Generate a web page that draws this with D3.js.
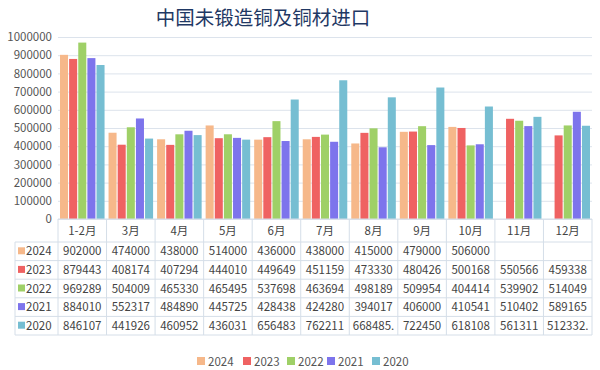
<!DOCTYPE html>
<html>
<head>
<meta charset="utf-8">
<script src="https://cdn.jsdelivr.net/npm/d3@7"></script>
<style>
body { margin: 0; background: #fff; }
text { font-family: "Noto Sans CJK SC", "Noto Sans", sans-serif; }
</style>
</head>
<body>
<div id="content"></div>
<script>
// chart data
var months = ["1-2月", "3月", "4月", "5月", "6月", "7月", "8月", "9月", "10月", "11月", "12月"];
var years = ["2024", "2023", "2022", "2021", "2020"];
var colors = ["#F6B88A", "#EF6262", "#9FD067", "#7D74EC", "#76BED2"];
var yTicks = [0, 100000, 200000, 300000, 400000, 500000, 600000, 700000, 800000, 900000, 1000000];

var v2024 = [902000, 474000, 438000, 514000, 436000, 438000, 415000, 479000, 506000, null, null];
var v2023 = [879443, 408174, 407294, 444010, 449649, 451159, 473330, 480426, 500168, 550566, 459338];
var v2022 = [969289, 504009, 465330, 465495, 537698, 463694, 498189, 509954, 404414, 539902, 514049];
var v2021 = [884010, 552317, 484890, 445725, 428438, 424280, 394017, 406000, 410541, 510402, 589165];
var v2020 = [846107, 441926, 460952, 436031, 656483, 762211, 668485.5, 722450, 618108, 561311, 512332.5];
var series = [v2024, v2023, v2022, v2021, v2020];

var width = 600, height = 370;
var plotL = 58, plotR = 592, plotT = 37, plotB = 219;

var svg = d3.select("#content").append("svg")
    .attr("width", width)
    .attr("height", height);

var x = d3.scaleBand().domain(months).range([plotL, plotR]);
var xs = d3.scaleBand().domain(years).range([2, x.bandwidth() - 2]).paddingInner(0.12);
var y = d3.scaleLinear().domain([0, 1000000]).range([plotB, plotT]);

// title
svg.append("text")
    .attr("x", 263).attr("y", 25)
    .attr("text-anchor", "middle")
    .style("font-size", "19.5px")
    .style("fill", "#1F3864")
    .text("中国未锻造铜及铜材进口");

// grid + y labels
var yAxis = d3.axisLeft(y).tickValues(yTicks).tickSize(-(plotR - plotL)).tickFormat(d3.format("d"));
var ga = svg.append("g").attr("transform", "translate(" + plotL + ",0)").call(yAxis);
ga.select(".domain").remove();
ga.selectAll(".tick line").attr("stroke", "#DCE3EC");
ga.selectAll(".tick text")
    .attr("x", -6)
    .style("font-size", "11.5px")
    .style("fill", "#555")
    .style("font-family", "'Noto Sans CJK SC', sans-serif");

// bars
series.forEach(function(vals, si) {
    svg.append("g").selectAll("rect")
        .data(vals.map(function(v, i) { return { m: months[i], v: v }; }).filter(function(d) { return d.v != null; }))
        .enter().append("rect")
        .attr("x", function(d) { return x(d.m) + xs(years[si]); })
        .attr("y", function(d) { return y(d.v); })
        .attr("width", xs.bandwidth())
        .attr("height", function(d) { return plotB - y(d.v); })
        .attr("fill", colors[si]);
});

// data table
var tLeft = 15, rowTop = 242, rowH = 18.6;
var line = "#D5DEE8";
svg.append("line").attr("x1", plotL).attr("x2", plotR).attr("y1", plotB).attr("y2", plotB).attr("stroke", line);
for (var r = 0; r <= years.length; r++) {
    svg.append("line").attr("x1", tLeft).attr("x2", plotR)
        .attr("y1", rowTop + r * rowH).attr("y2", rowTop + r * rowH).attr("stroke", line);
}
svg.append("line").attr("x1", tLeft).attr("x2", tLeft)
    .attr("y1", rowTop).attr("y2", rowTop + years.length * rowH).attr("stroke", line);
months.forEach(function(m) {
    svg.append("line").attr("x1", x(m)).attr("x2", x(m))
        .attr("y1", plotB).attr("y2", rowTop + years.length * rowH).attr("stroke", line);
});
svg.append("line").attr("x1", plotR).attr("x2", plotR)
    .attr("y1", plotB).attr("y2", rowTop + years.length * rowH).attr("stroke", line);

svg.append("g").selectAll("text").data(months).enter().append("text")
    .attr("x", function(d) { return x(d) + x.bandwidth() / 2; })
    .attr("y", 235)
    .attr("text-anchor", "middle")
    .style("font-size", "11.5px")
    .style("fill", "#444")
    .text(function(d) { return d; });

function cellText(v) {
    if (v == null) return "";
    return Number.isInteger(v) ? String(v) : Math.floor(v) + ".";
}

years.forEach(function(yr, si) {
    var cy = rowTop + si * rowH + rowH / 2 + 4;
    svg.append("rect").attr("x", 18).attr("y", cy - 8).attr("width", 7).attr("height", 7).attr("fill", colors[si]);
    svg.append("text").attr("x", 26).attr("y", cy)
        .style("font-size", "11.5px").style("fill", "#444").text(yr);
    svg.append("g").selectAll("text").data(series[si]).enter().append("text")
        .attr("x", function(d, i) { return x(months[i]) + x.bandwidth() / 2; })
        .attr("y", cy)
        .attr("text-anchor", "middle")
        .style("font-size", "11.5px")
        .style("fill", "#444")
        .text(cellText);
});

// legend
var lx = [197, 243, 287, 327, 372];
years.forEach(function(yr, si) {
    svg.append("rect").attr("x", lx[si]).attr("y", 357).attr("width", 8).attr("height", 8).attr("fill", colors[si]);
    svg.append("text").attr("x", lx[si] + 11).attr("y", 366)
        .style("font-size", "11.5px").style("fill", "#555").text(yr);
});
</script>
</body>
</html>
